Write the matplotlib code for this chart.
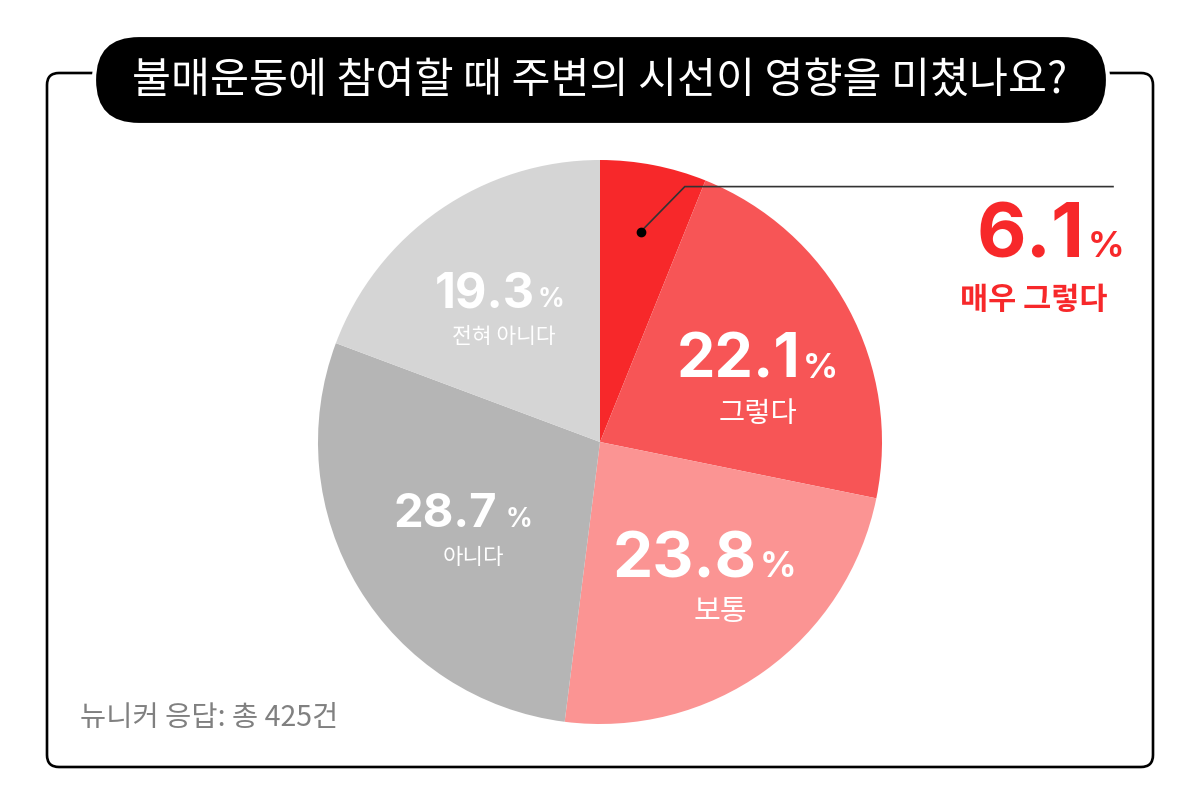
import numpy as np
import matplotlib
matplotlib.use("Agg")
from matplotlib import pyplot as plt
from matplotlib.patches import FancyBboxPatch

W, H = 1200, 798

title = "불매운동에 참여할 때 주변의 시선이 영향을 미쳤나요?"
note = "뉴니커 응답: 총 425건"

categories = ["매우 그렇다", "그렇다", "보통", "아니다", "전혀 아니다"]
shares = [6.1, 22.1, 23.8, 28.7, 19.3]
colors = ["#f7282a", "#f75556", "#fb9493", "#b5b5b5", "#d5d5d5"]

# label layout: (x of number right edge, baseline y, number size, pct size, sub size, sub x, sub y)
layout = [
    (1085, 257, 55, 26, 22, 1034, 300),
    (800, 378, 44, 25, 20.5, 758, 414),
    (757, 577, 46, 26, 21, 720, 612),
    (497, 527, 34, 19, 16, 473, 557),
    (535, 307, 35, 19, 15.5, 504, 337),
]

KR = ["Noto Sans CJK KR", "DejaVu Sans"]
NUM = ["Inter", "DejaVu Sans"]

fig = plt.figure(figsize=(W / 100, H / 100), dpi=100)
ax = fig.add_axes([0, 0, 1, 1])

cx, cy, R = 600, 442, 282
wedges, _ = ax.pie(shares, colors=colors, startangle=-90, counterclock=True,
                   radius=R, center=(cx, cy),
                   wedgeprops=dict(linewidth=0))

ax.set_xlim(0, W)
ax.set_ylim(H, 0)
ax.set_aspect("auto")
ax.axis("off")

# frame and title pill
frame = FancyBboxPatch((47, 73), 1106, 694,
                       boxstyle="round,pad=0,rounding_size=12",
                       fc="none", ec="black", lw=1.9, zorder=1)
ax.add_patch(frame)
pill = FancyBboxPatch((94, 35), 1014, 90,
                      boxstyle="round,pad=0,rounding_size=45",
                      fc="black", ec="white", lw=3, zorder=3)
ax.add_patch(pill)
ax.text(600, 81, title, color="white", fontsize=30.5, family=KR,
        weight="light", ha="center", va="center", zorder=4)

# leader line for smallest slice
w0 = wedges[0]
mid = np.deg2rad((w0.theta1 + w0.theta2) / 2)
dx, dy = cx + 0.76 * R * np.cos(mid), cy + 0.76 * R * np.sin(mid)
kx, ky = dx + 44, dy - 45
ax.plot([dx, kx, 1113], [dy, ky, ky], color="#333333", lw=1.2,
        solid_joinstyle="miter", zorder=5)
ax.plot([dx], [dy], "o", color="black", ms=6, zorder=6)

for i, (cat, val) in enumerate(zip(categories, shares)):
    xr, yb, ns, ps, ss, sx, sy = layout[i]
    col = colors[0] if i == 0 else "white"
    ax.text(xr, yb, f"{val:.1f}", color=col, fontsize=ns, family=NUM,
            weight="bold", ha="right", va="baseline", zorder=6)
    gap = 9 if i == 3 else 3
    ax.text(xr + gap, yb, "%", color=col, fontsize=ps, family=NUM,
            weight="bold", ha="left", va="baseline", zorder=6)
    ax.text(sx, sy, cat, color=col, fontsize=ss, family=KR,
            weight="bold" if i == 0 else "medium",
            ha="center", va="center", zorder=6)

ax.text(80, 718, note, color="#808080", fontsize=20.5, family=KR,
        weight="medium", ha="left", va="center", zorder=6)

fig.savefig("out.png", dpi=100)
